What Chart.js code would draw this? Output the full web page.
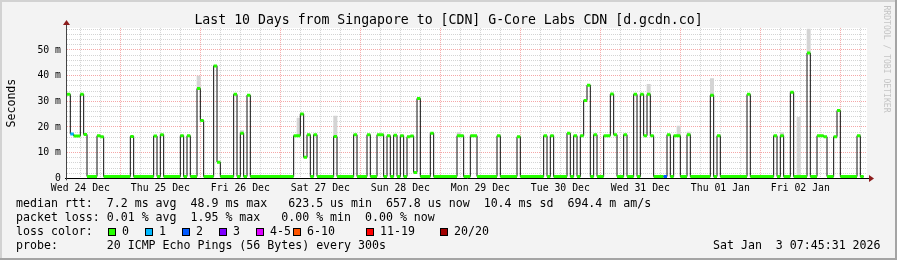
<!DOCTYPE html>
<html>
<head>
<meta charset="utf-8">
<script src="https://cdn.jsdelivr.net/npm/chart.js@4/dist/chart.umd.min.js"></script>
<style>
html,body{margin:0;padding:0;background:#f3f3f3;}
#wrap{width:897px;height:260px;position:relative;}
canvas{display:block;}
</style>
</head>
<body>
<div id="wrap"><canvas id="c" width="897" height="260"></canvas></div>
<script>
// ---------------- data (hours counted from Wed 24 Dec 00:00) ----------------
const startHour = 8;
const endHour = 248;
const dataEndHour = 247;

// hour at which each median level begins
const changeHours = [
  8, 9, 10, 12, 13, 14, 17, 18, 19, 27, 28, 34, 35, 36, 37, 42, 43, 44, 45,
  47, 48, 49, 52, 53, 54, 58, 59, 60, 61, 62, 63, 76, 78, 79, 80, 81, 82, 83,
  88, 89, 94, 95, 98, 99, 101, 103, 104, 105, 106, 107, 108, 109, 110, 111, 112, 113, 114,
  117, 118, 125, 127, 129, 131, 137, 138, 143, 144, 151, 152, 153, 154,
  158, 159, 160, 161, 162, 163, 164, 165, 166, 167, 169, 171, 172, 173, 175, 176,
  178, 179, 180, 181, 182, 183, 184, 187, 188, 189, 190, 192, 194, 195,
  201, 202, 203, 204, 212, 213, 220, 221, 222, 223, 225, 226, 230, 231,
  233, 235, 236, 238, 239, 240, 245, 246
];
// median rtt in ms for each level
const medianMs = [
  32.7, 17.3, 16.5, 32.7, 17.1, 0.7, 16.6, 16.2, 0.7, 16.3, 0.7, 16.5, 0.7, 17.0, 0.7, 16.6, 0.7, 16.6, 0.7,
  35.0, 22.5, 0.7, 43.8, 6.3, 0.7, 32.7, 0.7, 17.6, 0.7, 32.4, 0.7, 16.6, 25.1, 8.2, 17.0, 0.7, 17.0, 0.7,
  16.3, 0.7, 17.0, 0.7, 17.0, 0.7, 17.0, 0.7, 16.6, 0.7, 16.8, 0.7, 16.6, 0.7, 16.2, 16.5, 2.3, 31.1, 0.7,
  17.6, 0.7, 16.6, 0.7, 16.6, 0.7, 16.6, 0.7, 16.2, 0.7, 16.6, 0.7, 16.6, 0.7,
  17.6, 0.7, 16.6, 0.7, 16.6, 30.3, 36.3, 0.7, 17.0, 0.7, 16.6, 32.8, 17.0, 0.7, 17.0, 0.7,
  32.7, 0.7, 32.7, 16.6, 32.7, 16.6, 0.7, 0.7, 17.0, 0.7, 16.6, 0.7, 17.0, 0.7,
  32.4, 0.7, 16.6, 0.7, 32.7, 0.7, 16.6, 0.7, 16.6, 0.7, 33.5, 0.7, 48.8, 0.7,
  16.6, 16.2, 0.7, 16.2, 26.4, 0.7, 16.6, 0.7
];
// levels with packet loss: start hour and loss colour index
const lossHours = [9, 187];
const lossIndex = [1, 2];

// smoke (spread of pings) where visible
const smokeHours = [47, 60, 77, 88, 125, 182, 191, 194, 201, 222, 227, 230];
const smokeLow   = [35.0, 17.6, 16.6, 16.3, 16.6, 32.7, 16.6, 17.0, 32.4, 16.6, 0.7, 48.8];
const smokeHigh  = [39.8, 18.6, 23.5, 24.2, 17.8, 36.6, 20.3, 18.0, 38.9, 17.8, 23.8, 58.1];

// ticks & labels
const xTickLabels = ['Wed 24 Dec','Thu 25 Dec','Fri 26 Dec','Sat 27 Dec','Sun 28 Dec',
                     'Mon 29 Dec','Tue 30 Dec','Wed 31 Dec','Thu 01 Jan','Fri 02 Jan'];
const yTickLabels = ['0','10 m','20 m','30 m','40 m','50 m'];
const yMax = 58.6;

const lossLabels = ['0','1','2','3','4-5','6-10','11-19','20/20'];
const lossColors = ['#26ff00','#00b8ff','#0059ff','#7e00ff','#dd00ff','#ff5500','#ff0000','#a10000'];

const titleText = 'Last 10 Days from Singapore to [CDN] G-Core Labs CDN [d.gcdn.co]';
const statLines = [
  'median rtt:  7.2 ms avg  48.9 ms max   623.5 us min  657.8 us now  10.4 ms sd  694.4 m am/s',
  'packet loss: 0.01 % avg  1.95 % max   0.00 % min  0.00 % now',
  'loss color:',
  'probe:       20 ICMP Echo Pings (56 Bytes) every 300s'
];
const dateText = 'Sat Jan  3 07:45:31 2026';
const yAxisTitle = 'Seconds';
const watermark = 'RRDTOOL / TOBI OETIKER';

// ---------------- build datasets ----------------
const medianPts = changeHours.map((h, i) => ({x: h, y: medianMs[i]}));
medianPts.push({x: dataEndHour, y: medianMs[medianMs.length - 1]});

const runLoss = changeHours.map(h => {
  const k = lossHours.indexOf(h);
  return k >= 0 ? lossIndex[k] : 0;
});

const bandPts = [];
changeHours.forEach((h, i) => {
  const e = i + 1 < changeHours.length ? changeHours[i + 1] : dataEndHour;
  bandPts.push({x: h, y: medianMs[i]}, {x: e, y: medianMs[i]}, {x: e, y: null});
});

const smokePts = smokeHours.map((h, i) => ({x: h + 0.5, y: [smokeLow[i], smokeHigh[i]]}));

// ---------------- layout constants ----------------
const PLOT_LEFT = 67, PLOT_RIGHT = 867, PLOT_TOP = 27.9, PLOT_BOTTOM = 178.3;
const X_AXIS_H = 20;
const MONO = '"DejaVu Sans Mono", monospace';
const MAJOR_GRID = 'rgba(240,120,120,0.65)';
const MINOR_GRID = 'rgba(170,170,170,0.5)';

const decor = {
  id: 'rrdDecor',
  beforeDraw(chart) {
    const ctx = chart.ctx, a = chart.chartArea;
    ctx.save();
    ctx.fillStyle = '#f3f3f3';
    ctx.fillRect(0, 0, 897, 260);
    ctx.fillStyle = '#d2d2d2';
    ctx.fillRect(0, 0, 897, 2);
    ctx.fillRect(0, 0, 2, 260);
    ctx.fillStyle = '#a4a4a4';
    ctx.fillRect(0, 258, 897, 2);
    ctx.fillRect(895, 0, 2, 260);
    ctx.fillStyle = '#ffffff';
    ctx.fillRect(a.left, a.top, a.right - a.left, a.bottom - a.top);
    ctx.restore();
  },
  afterDraw(chart) {
    const ctx = chart.ctx, a = chart.chartArea;
    ctx.save();
    // axes
    ctx.strokeStyle = '#000';
    ctx.lineWidth = 1;
    ctx.beginPath();
    ctx.moveTo(a.left - 2, Math.round(a.bottom) + 0.5);
    ctx.lineTo(a.right + 3, Math.round(a.bottom) + 0.5);
    ctx.stroke();
    ctx.strokeStyle = '#444';
    ctx.beginPath();
    ctx.moveTo(Math.round(a.left) - 0.5, a.bottom + 2);
    ctx.lineTo(Math.round(a.left) - 0.5, a.top - 4);
    ctx.stroke();
    // arrows
    ctx.fillStyle = '#8c1c1c';
    const ay = Math.round(a.bottom) + 0.5;
    ctx.beginPath();
    ctx.moveTo(a.right + 2, ay - 3.5);
    ctx.lineTo(a.right + 7, ay);
    ctx.lineTo(a.right + 2, ay + 3.5);
    ctx.closePath();
    ctx.fill();
    const ax = Math.round(a.left) - 0.5;
    ctx.beginPath();
    ctx.moveTo(ax - 3.5, a.top - 3);
    ctx.lineTo(ax, a.top - 8);
    ctx.lineTo(ax + 3.5, a.top - 3);
    ctx.closePath();
    ctx.fill();

    // title
    ctx.fillStyle = '#000';
    ctx.font = '13.2px ' + MONO;
    ctx.textAlign = 'center';
    ctx.textBaseline = 'alphabetic';
    ctx.fillText(titleText, 448.5, 24);

    // y axis title
    ctx.save();
    ctx.translate(11.5, (a.top + a.bottom) / 2);
    ctx.rotate(-Math.PI / 2);
    ctx.font = '11.6px ' + MONO;
    ctx.textAlign = 'center';
    ctx.textBaseline = 'middle';
    ctx.fillText(yAxisTitle, 0, 0);
    ctx.restore();

    // watermark
    ctx.save();
    ctx.translate(886.5, 59);
    ctx.rotate(Math.PI / 2);
    ctx.font = '8.1px ' + MONO;
    ctx.fillStyle = '#c4c4c4';
    ctx.textAlign = 'center';
    ctx.textBaseline = 'middle';
    ctx.fillText(watermark, 0, 0);
    ctx.restore();

    // statistics lines
    ctx.font = '11.6px ' + MONO;
    ctx.textAlign = 'left';
    ctx.textBaseline = 'alphabetic';
    ctx.fillStyle = '#000';
    const baselines = [207.3, 221.3, 235.3, 249.3];
    statLines.forEach((t, i) => ctx.fillText(t, 16, baselines[i]));

    // loss colour legend
    const boxX = [108, 145, 182, 219, 256, 293, 366, 440];
    lossLabels.forEach((lab, i) => {
      ctx.fillStyle = lossColors[i];
      ctx.fillRect(boxX[i], 228, 8, 8);
      ctx.strokeStyle = '#000';
      ctx.strokeRect(boxX[i] + 0.5, 228.5, 7, 7);
      ctx.fillStyle = '#000';
      ctx.fillText(lab, boxX[i] + 14, 235.3);
    });

    // date
    ctx.fillText(dateText, 713, 249.3);
    ctx.restore();
  }
};

const xTicks = [];
for (let h = 12; h < endHour; h += 6) xTicks.push(h);
const yTicks = [];
for (let v = 0; v <= yMax; v += 2) yTicks.push(v);

new Chart(document.getElementById('c'), {
  type: 'line',
  data: {
    datasets: [
      {
        type: 'bar',
        label: 'smoke',
        data: smokePts,
        backgroundColor: '#d4d4d4',
        borderWidth: 0,
        barThickness: (PLOT_RIGHT - PLOT_LEFT) / (endHour - startHour),
        order: 3
      },
      {
        label: 'median',
        data: medianPts,
        stepped: true,
        borderColor: '#101010',
        borderWidth: 1,
        pointRadius: 0,
        fill: false,
        order: 2
      },
      {
        label: 'loss',
        data: bandPts,
        borderColor: lossColors[0],
        borderWidth: 3,
        borderCapStyle: 'butt',
        pointRadius: 0,
        spanGaps: false,
        fill: false,
        segment: {
          borderColor: c => lossColors[runLoss[Math.floor(c.p0DataIndex / 3)]]
        },
        order: 1
      }
    ]
  },
  options: {
    responsive: false,
    animation: false,
    devicePixelRatio: 1,
    layout: {
      padding: {left: 0, right: 897 - PLOT_RIGHT, top: PLOT_TOP, bottom: 260 - PLOT_BOTTOM - X_AXIS_H}
    },
    plugins: {legend: {display: false}, tooltip: {enabled: false}},
    scales: {
      x: {
        type: 'linear',
        min: startHour,
        max: endHour,
        offset: false,
        afterFit: s => { s.height = X_AXIS_H; },
        afterBuildTicks: s => { s.ticks = xTicks.map(v => ({value: v})); },
        grid: {
          offset: false,
          drawTicks: false,
          color: c => (c.tick && c.tick.value % 24 === 0) ? MAJOR_GRID : MINOR_GRID,
          lineWidth: 1
        },
        border: {display: false, dash: [1, 1]},
        ticks: {
          autoSkip: false,
          maxRotation: 0,
          minRotation: 0,
          padding: 4,
          color: '#000',
          font: {family: 'DejaVu Sans Mono', size: 9.8},
          callback: v => ((v - 12) % 24 === 0 ? xTickLabels[(v - 12) / 24] : '')
        }
      },
      y: {
        type: 'linear',
        min: 0,
        max: yMax,
        afterFit: s => { s.width = PLOT_LEFT; },
        afterBuildTicks: s => { s.ticks = yTicks.map(v => ({value: v})); },
        grid: {
          drawTicks: false,
          color: c => (c.tick && c.tick.value % 10 === 0) ? MAJOR_GRID : MINOR_GRID,
          lineWidth: 1
        },
        border: {display: false, dash: [1, 1]},
        ticks: {
          autoSkip: false,
          padding: 6,
          color: '#000',
          font: {family: 'DejaVu Sans Mono', size: 9.8},
          callback: v => (v % 10 === 0 ? yTickLabels[v / 10] : '')
        }
      }
    }
  },
  plugins: [decor]
});
</script>
</body>
</html>
